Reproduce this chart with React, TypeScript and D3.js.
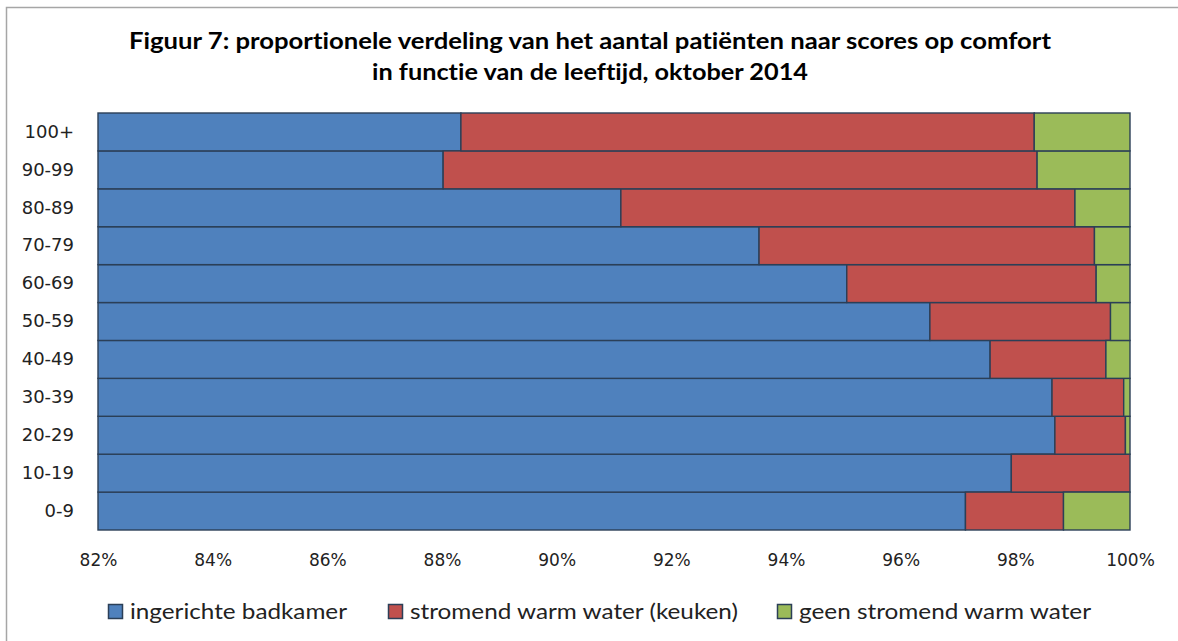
import React, { useRef, useEffect } from 'react';
import * as d3 from 'd3';

const ageGroups = ['0-9', '10-19', '20-29', '30-39', '40-49', '50-59', '60-69', '70-79', '80-89', '90-99', '100+'];
const badkamer = [97.13, 97.93, 98.69, 98.64, 97.56, 96.51, 95.06, 93.53, 91.12, 88.02, 88.33];
const warmWaterKeuken = [1.71, 2.07, 1.23, 1.25, 2.02, 3.15, 4.35, 5.85, 7.92, 10.36, 10.0];
const geenWarmWater = [1.16, 0.0, 0.08, 0.11, 0.42, 0.34, 0.59, 0.62, 0.96, 1.62, 1.67];

const seriesNames = ['ingerichte badkamer', 'stromend warm water (keuken)', 'geen stromend warm water'];
const seriesColors = ['#4f81bd', '#c0504d', '#9bbb59'];
const xTicks = [82, 84, 86, 88, 90, 92, 94, 96, 98, 100];
const titleLines = [
  'Figuur 7: proportionele verdeling van het aantal patiënten naar scores op comfort',
  'in functie van de leeftijd, oktober 2014'
];

const App: React.FC = () => {
  const svgRef = useRef<SVGSVGElement>(null);

  useEffect(() => {
    if (!svgRef.current) return;
    const width = 1178;
    const height = 641;
    const margin = { top: 113, right: 48, bottom: 111, left: 98 };

    const svg = d3.select(svgRef.current);
    svg.selectAll('*').remove();

    // frame
    svg.append('rect')
      .attr('x', 6.5)
      .attr('y', 7.5)
      .attr('width', width + 10)
      .attr('height', height + 10)
      .attr('fill', '#fff')
      .attr('stroke', '#a6a6a6')
      .attr('stroke-width', 1.5);

    // title
    svg.append('g')
      .selectAll('text')
      .data(titleLines)
      .enter()
      .append('text')
      .attr('x', 590)
      .attr('y', (_, i) => 49 + i * 31)
      .attr('text-anchor', 'middle')
      .attr('font-family', 'Lato, "Open Sans", sans-serif')
      .attr('font-weight', 700)
      .attr('font-size', '22px')
      .attr('fill', '#000')
      .style('font-variant-ligatures', 'none')
      .attr('textLength', (_, i) => (i === 0 ? 922 : 436))
      .attr('lengthAdjust', 'spacingAndGlyphs')
      .text(d => d);

    const x = d3.scaleLinear()
      .domain([82, 100])
      .range([margin.left, width - margin.right])
      .clamp(true);

    const y = d3.scaleBand()
      .domain([...ageGroups].reverse())
      .range([margin.top, height - margin.bottom])
      .padding(0);

    const rows = ageGroups.map((g, i) => ({
      group: g,
      s0: badkamer[i],
      s1: warmWaterKeuken[i],
      s2: geenWarmWater[i]
    }));

    const stack = d3.stack<any>().keys(['s0', 's1', 's2']);
    const layers = stack(rows);

    const layerG = svg.append('g')
      .selectAll('g')
      .data(layers)
      .enter()
      .append('g')
      .attr('fill', (_, i) => seriesColors[i]);

    layerG.selectAll('rect')
      .data(d => d.filter(p => p[1] - p[0] > 0))
      .enter()
      .append('rect')
      .attr('x', d => x(d[0]))
      .attr('y', d => y(d.data.group)!)
      .attr('width', d => x(d[1]) - x(d[0]))
      .attr('height', y.bandwidth())
      .attr('stroke', '#2b3f57')
      .attr('stroke-width', 1.4);

    // x axis
    const xAxis = svg.append('g')
      .attr('transform', `translate(0,${height - margin.bottom})`)
      .call(d3.axisBottom(x).tickValues(xTicks).tickSize(0).tickPadding(24).tickFormat(d => `${d}%`));
    xAxis.select('.domain').remove();
    xAxis.selectAll('text')
      .attr('font-family', '"DejaVu Sans", sans-serif')
      .attr('font-size', '17px')
      .attr('fill', '#222');

    // y axis
    const yAxis = svg.append('g')
      .attr('transform', `translate(${margin.left},0)`)
      .call(d3.axisLeft(y).tickSize(0).tickPadding(24));
    yAxis.select('.domain').remove();
    yAxis.selectAll('text')
      .attr('font-family', '"DejaVu Sans", sans-serif')
      .attr('font-size', '18px')
      .attr('fill', '#222');

    // legend
    const legendX = [108, 388, 777];
    const legendW = [217, 328, 292];
    const legend = svg.append('g')
      .selectAll('g')
      .data(seriesNames)
      .enter()
      .append('g')
      .attr('transform', (_, i) => `translate(${legendX[i]},604)`);

    legend.append('rect')
      .attr('x', 0.5)
      .attr('y', 0.5)
      .attr('width', 14)
      .attr('height', 14)
      .attr('fill', (_, i) => seriesColors[i])
      .attr('stroke', '#2b3f57')
      .attr('stroke-width', 1.5);

    legend.append('text')
      .attr('x', 22)
      .attr('y', 15)
      .attr('font-family', 'Lato, "Open Sans", sans-serif')
      .attr('font-size', '22px')
      .attr('fill', '#222')
      .style('font-variant-ligatures', 'none')
      .attr('textLength', (_, i) => legendW[i])
      .attr('lengthAdjust', 'spacingAndGlyphs')
      .text(d => d);
  }, []);

  return (
    <svg
      ref={svgRef}
      width={1178}
      height={641}
      style={{ position: 'absolute', left: 0, top: 0, background: '#fff' }}
    />
  );
};

export default App;
